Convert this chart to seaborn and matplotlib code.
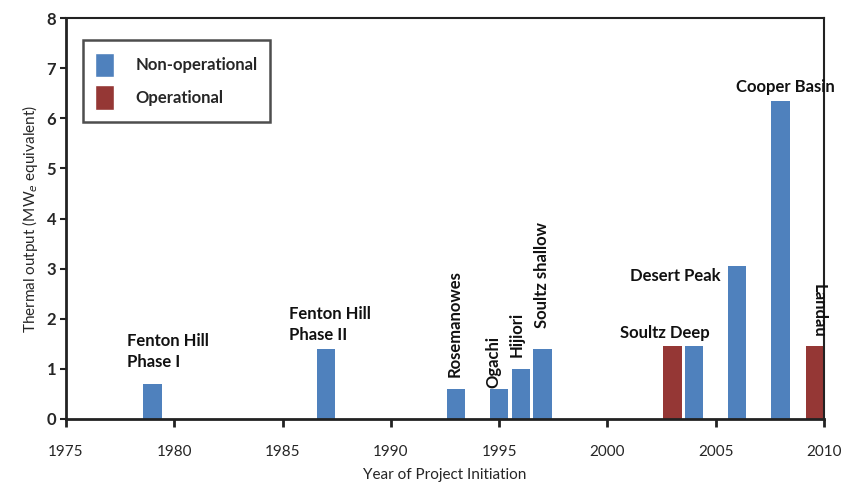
import matplotlib
matplotlib.use("Agg")
import matplotlib.pyplot as plt
from matplotlib.patches import Patch
import pandas as pd
import seaborn as sns

# Data
projects = ["Fenton Hill Phase I", "Fenton Hill Phase II", "Rosemanowes", "Ogachi",
            "Hijiori", "Soultz shallow", "Soultz Deep", "Soultz (2004)", "Desert Peak",
            "Cooper Basin", "Landau"]
years = [1979, 1987, 1993, 1995, 1996, 1997, 2003, 2004, 2006, 2008, 2009.6]
output_mw = [0.7, 1.4, 0.6, 0.6, 1.0, 1.4, 1.45, 1.45, 3.05, 6.35, 1.45]
status = ["Non-operational", "Non-operational", "Non-operational", "Non-operational",
          "Non-operational", "Non-operational", "Operational", "Non-operational",
          "Non-operational", "Non-operational", "Operational"]

x_ticks = [1975, 1980, 1985, 1990, 1995, 2000, 2005, 2010]
y_ticks = [0, 1, 2, 3, 4, 5, 6, 7, 8]

BLUE = "#4f81bd"
RED = "#953735"
palette = {"Non-operational": BLUE, "Operational": RED}

df = pd.DataFrame({"project": projects, "year": years, "output": output_mw, "status": status})

sns.set_style("white")
plt.rcParams["font.family"] = ["Lato", "DejaVu Sans"]

fig = plt.figure(figsize=(8.52, 4.9), dpi=100)
ax = fig.add_axes([0.0775, 0.145, 0.8895, 0.818])

sns.barplot(data=df, x="year", y="output", hue="status", palette=palette,
            native_scale=True, dodge=False, width=0.85, ax=ax, legend=False,
            saturation=1, edgecolor="none")

ax.set_xlim(1975, 2010)
ax.set_ylim(0, 8)
ax.set_xticks(x_ticks)
ax.set_yticks(y_ticks)
ax.tick_params(axis="x", bottom=True, direction="out", length=6, width=2,
               labelsize=11, pad=13, color="#222222")
ax.tick_params(axis="y", left=True, direction="out", length=4, width=1.5,
               labelsize=12, pad=3, color="#222222")
for lab in ax.get_yticklabels():
    lab.set_fontweight("bold")
for sp in ax.spines.values():
    sp.set_color("#222222")
    sp.set_linewidth(1.5)
for sp in ["bottom", "left"]:
    ax.spines[sp].set_linewidth(2)

ax.set_xlabel("Year of Project Initiation", fontsize=11, labelpad=6)
ax.set_ylabel("Thermal output (MW$_e$ equivalent)", fontsize=11, labelpad=5)

# Project labels
lab_kw = dict(fontsize=12, fontweight="bold", color="#111111")
ax.text(1977.8, 0.98, "Fenton Hill\nPhase I", ha="left", va="bottom", linespacing=1.4, **lab_kw)
ax.text(1985.3, 1.52, "Fenton Hill\nPhase II", ha="left", va="bottom", linespacing=1.4, **lab_kw)
ax.text(1992.95, 0.84, "Rosemanowes", rotation=90, ha="center", va="bottom", **lab_kw)
ax.text(1994.75, 0.62, "Ogachi", rotation=90, ha="center", va="bottom", **lab_kw)
ax.text(1995.8, 1.24, "Hijiori", rotation=90, ha="center", va="bottom", **lab_kw)
ax.text(1997.0, 1.82, "Soultz shallow", rotation=90, ha="center", va="bottom", **lab_kw)
ax.text(2002.65, 1.72, "Soultz Deep", ha="center", va="center", **lab_kw)
ax.text(2003.15, 2.85, "Desert Peak", ha="center", va="center", **lab_kw)
ax.text(2008.2, 6.63, "Cooper Basin", ha="center", va="center", **lab_kw)
ax.text(2009.75, 2.15, "Landau", rotation=-90, ha="center", va="center", **lab_kw)

handles = [Patch(facecolor=BLUE, label="Non-operational"),
           Patch(facecolor=RED, label="Operational")]
leg = ax.legend(handles=handles, loc="upper left", bbox_to_anchor=(0.022, 0.945),
                borderaxespad=0, frameon=True, fancybox=False,
                handlelength=1.1, handleheight=1.9,
                handletextpad=1.3, borderpad=0.75, labelspacing=0.45,
                prop={"size": 12, "weight": "bold"})
leg.get_frame().set_edgecolor("#222222")
leg.get_frame().set_linewidth(1.8)

fig.savefig("out.png", dpi=100)
